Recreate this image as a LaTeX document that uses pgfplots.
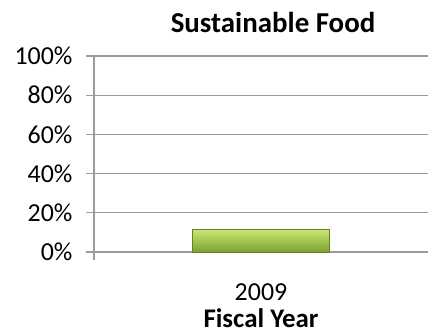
\documentclass[border=0pt]{standalone}
\usepackage{pgfplots}
\pgfplotsset{compat=1.18}
\usepackage{fontspec}
\setmainfont{Carlito}
\definecolor{gridgray}{RGB}{155,155,155}
\definecolor{bartop}{RGB}{200,232,115}
\definecolor{barmid}{RGB}{170,208,80}
\definecolor{barbot}{RGB}{125,160,50}
\definecolor{baredge}{RGB}{100,130,40}
\begin{document}
\begin{tikzpicture}
\useasboundingbox (0,0) rectangle (428bp,333bp);
\node[font=\fontsize{29}{34}\selectfont\bfseries] at (273bp,311bp) {Sustainable Food};
\begin{axis}[
  at={(94bp,81bp)}, anchor=south west,
  scale only axis, width=334bp, height=196bp,
  xmin=-0.5, xmax=0.5, ymin=0, ymax=100,
  axis x line*=bottom, axis y line*=left,
  axis line style={gridgray, line width=1.1pt},
  ytick={0,20,40,60,80,100},
  yticklabel={\pgfmathprintnumber{\tick}\%},
  ymajorgrids, grid style={gridgray, line width=1.1pt},
  tick align=outside, major tick length=8bp,
  tick style={gridgray, line width=1.1pt},
  xtick={-0.5}, xticklabels={},
  extra x ticks={0}, extra x tick labels={2009},
  extra x tick style={major tick length=0pt, grid=none},
  /pgf/number format/assume math mode=true,
  ticklabel style={font=\fontsize{26}{30}\selectfont, text=black},
  yticklabel style={xshift=-10bp},
  xticklabel style={yshift=-28bp},
  xlabel={Fiscal Year},
  xlabel style={font=\fontsize{27}{31}\selectfont\bfseries, inner sep=0pt, yshift=3bp},
  clip=false,
]
\addplot[ybar, bar width=137bp, draw=baredge, top color=bartop, middle color=barmid, bottom color=barbot] coordinates {(0,11.5)};
\end{axis}
\end{tikzpicture}
\end{document}
